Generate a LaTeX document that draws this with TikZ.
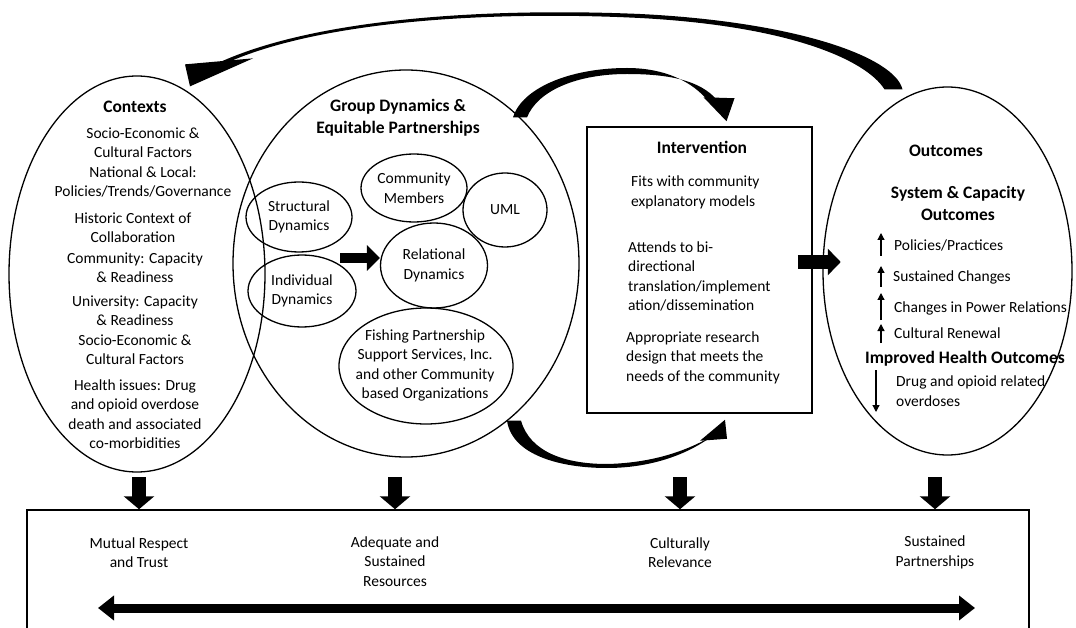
\documentclass[tikz,border=0pt]{standalone}
\usepackage{fontspec}
\setmainfont{Carlito}
\usetikzlibrary{shapes.geometric, arrows.meta, calc}

\begin{document}
\begin{tikzpicture}[x=1pt, y=-1pt,
  oval/.style = {draw, ellipse, line width=1.3pt, inner sep=0pt},
  txt/.style = {font=\fontsize{15.5}{19.5}\selectfont, align=center, inner sep=0pt},
  ttl/.style = {font=\bfseries\fontsize{17.5}{22}\selectfont, align=center, inner sep=0pt},
  fat/.style = {line width=14pt, -{Triangle[length=13pt, width=30pt]}},
  tinyarr/.style = {line width=1.2pt, -{Triangle[length=7pt, width=7pt]}}]
\useasboundingbox (0,0) rectangle (1076,628);
\clip (0,0) rectangle (1076,628);

% the four big blocks
\node[oval, minimum width=256pt, minimum height=396pt] (ctx) at (137,274) {};
\node[oval, minimum width=346pt, minimum height=387pt] (grp) at (406,263.5) {};
\node[draw, line width=1.5pt, minimum width=225pt, minimum height=286pt, inner sep=0pt] (interv) at (699.5,270) {};
\node[oval, minimum width=249pt, minimum height=368pt] (outc) at (947.5,271) {};

% contexts
\node[ttl] (ctxT) at (135,107) {Contexts};
\node[txt] (ctx1) at (143,162.5) {Socio-Economic \&\\Cultural Factors\\National \& Local:\\Policies/Trends/Governance};
\node[txt] (ctx2) at (133,227.5) {Historic Context of\\Collaboration};
\node[txt] (ctx3) at (135,267.5) {Community: Capacity\\\& Readiness};
\node[txt] (ctx4) at (135,330) {University: Capacity\\\& Readiness\\Socio-Economic \&\\Cultural Factors};
\node[txt] (ctx5) at (135,414) {Health issues: Drug\\and opioid overdose\\death and associated\\co-morbidities};

% group dynamics
\node[ttl] (grpT) at (398,118) {Group Dynamics \&\\Equitable Partnerships};
\node[oval, txt, minimum width=106pt, minimum height=70pt] (sdyn) at (299,217) {Structural\\Dynamics};
\node[oval, txt, minimum width=108pt, minimum height=72pt] (idyn) at (302,291) {Individual\\Dynamics};
\node[oval, txt, minimum width=106pt, minimum height=68pt] (cmem) at (414,188) {Community\\Members};
\node[oval, txt, minimum width=84pt, minimum height=74pt] (uml) at (505,210) {UML};
\node[oval, txt, minimum width=107pt, minimum height=85pt] (rdyn) at (434,265.5) {Relational\\Dynamics};
\node[oval, minimum width=174pt, minimum height=116pt] (fish) at (426,366) {};
\node[txt] (fishT) at (425,365.5) {Fishing Partnership\\Support Services, Inc.\\and other Community\\based Organizations};

\coordinate (gin) at (340,258);
\draw[line width=10pt, -{Triangle[length=13pt, width=25pt]}] (gin) -- (gin -| rdyn.west);

% intervention
\node[ttl] (intT) at (702,147) {Intervention};
\node[txt, align=left, anchor=west] (int1) at (631,192.5) {Fits with community\\explanatory models};
\node[txt, align=left, anchor=west] (int2) at (628,276.5) {Attends to bi-\\directional\\translation/implement\\ation/dissemination};
\node[txt, align=left, anchor=west] (int3) at (626,357.5) {Appropriate research\\design that meets the\\needs of the community};

% outcomes
\node[ttl] (outT) at (946,151) {Outcomes};
\node[ttl] (sysT) at (958,203) {System \& Capacity\\Outcomes};
\node[txt, anchor=west] (oc1) at (894,245) {Policies/Practices};
\node[txt, anchor=west] (oc2) at (893,277) {Sustained Changes};
\node[txt, anchor=west] (oc3) at (894,308) {Changes in Power Relations};
\node[txt, anchor=west] (oc4) at (894,333) {Cultural Renewal};
\node[ttl] (hlT) at (965,359) {Improved Health Outcomes};
\node[txt, align=left, anchor=west] (oc5) at (896,391) {Drug and opioid related\\overdoses};
\draw[tinyarr] (881,256) -- (881,233);
\draw[tinyarr] (881,287) -- (881,266);
\draw[tinyarr] (881,320) -- (881,293);
\draw[tinyarr] (881,343) -- (881,324);
\draw[tinyarr] (876,370) -- (876,412);

\draw[line width=14pt, -{Triangle[length=13pt, width=26pt]}] ([xshift=-15pt, yshift=8pt]interv.east) -- ++(43,0);

% curved arrows
\coordinate (topA) at ($(outc.north)+(-45,3)$);
\coordinate (topB) at ($(outc.north)+(-63,3)$);
\coordinate (topT) at ($(ctx.north)+(53,11)$);
\fill (topA) .. controls (895,58) and (800,22) .. (640,14)
  .. controls (500,8) and (320,16) .. (218,63)
  -- (222,65) .. controls (320,19) and (500,11) .. (640,18)
  .. controls (790,26) and (866,60) .. (topB) -- cycle;
\fill (topT) -- ++(-5,-22) -- ++(68,-6) -- cycle;

\coordinate (upA) at ($(grp.north)+(107,48)$);
\coordinate (upB) at ($(grp.north)+(121,48)$);
\coordinate (upT) at ($(interv.north)+(27,-5)$);
\fill (upA) .. controls (522,88) and (570,68) .. (627,68) .. controls (665,68) and (693,82) .. (708,101)
  -- (717,100) .. controls (700,80) and (668,74) .. (627,74) .. controls (578,74) and (538,90) .. (upB) -- cycle;
\fill (upT) -- ++(-23,-24) -- ++(31,1) -- cycle;

\coordinate (dnA) at ($(grp.south)+(101,-37)$);
\coordinate (dnB) at ($(grp.south)+(115,-37)$);
\coordinate (dnT) at ($(interv.south)+(25.5,6)$);
\fill (dnA) .. controls (512,455) and (560,468) .. (607,468) .. controls (650,468) and (685,455) .. (708,439)
  -- (712,436) .. controls (685,452) and (650,463) .. (607,464) .. controls (565,464) and (530,452) .. (dnB) -- cycle;
\fill (dnT) -- ++(-25,21) -- ++(27,-2) -- cycle;

% principles box
\node[draw, line width=1.5pt, minimum width=1002pt, minimum height=140pt, inner sep=0pt] (base) at (528,580) {};
\node[txt] (b1) at (139,552.5) {Mutual Respect\\and Trust};
\node[txt] (b2) at (395,561.5) {Adequate and\\Sustained\\Resources};
\node[txt] (b3) at (680,552.5) {Culturally\\Relevance};
\node[txt] (b4) at (935,552.5) {Sustained\\Partnerships};

\draw[fat] (b1.north |- 0,477) -- (b1.north |- base.north);
\draw[fat] (b2.north |- 0,477) -- (b2.north |- base.north);
\draw[fat] (b3.north |- 0,477) -- (b3.north |- base.north);
\draw[fat] (b4.north |- 0,477) -- (b4.north |- base.north);

\coordinate (bl) at (98,608);
\coordinate (br) at (975,608);
\draw[line width=9pt, {Triangle[length=16pt, width=24pt]}-{Triangle[length=16pt, width=24pt]}] (bl) -- (br);
\end{tikzpicture}
\end{document}
